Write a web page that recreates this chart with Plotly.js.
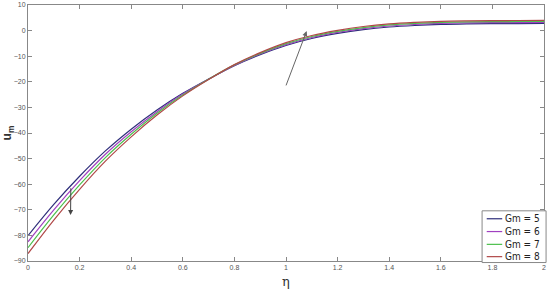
<!DOCTYPE html>
<html>
<head>
<meta charset="utf-8">
<script src="https://cdn.plot.ly/plotly-3.0.1.min.js"></script>
<style>
  html, body { margin: 0; padding: 0; background: #fff; }
  #chart { width: 550px; height: 292px; }
</style>
</head>
<body>
<div id="chart"></div>
<script>
// eta grid and velocity profiles
var eta = [0, 0.1, 0.2, 0.3, 0.4, 0.5, 0.6, 0.7, 0.8, 0.9, 1.0,
           1.1, 1.2, 1.3, 1.4, 1.5, 1.6, 1.7, 1.8, 1.9, 2.0];

var umGm5 = [-80.1, -67.9, -56.9, -47.0, -38.5, -31.0, -24.5, -18.9, -13.7, -9.4, -5.8,
             -3.1, -1.1, 0.4, 1.4, 2.0, 2.4, 2.6, 2.7, 2.75, 2.8];
var umGm6 = [-82.5, -70.0, -58.6, -48.3, -39.5, -31.7, -24.8, -19.0, -13.6, -9.1, -5.5,
             -2.7, -0.7, 0.8, 1.8, 2.4, 2.8, 3.0, 3.1, 3.15, 3.2];
var umGm7 = [-84.8, -72.0, -60.3, -49.6, -40.5, -32.3, -25.2, -19.0, -13.4, -8.9, -5.1,
             -2.3, -0.3, 1.2, 2.2, 2.8, 3.2, 3.4, 3.5, 3.55, 3.6];
var umGm8 = [-87.1, -74.0, -62.0, -51.0, -41.5, -33.0, -25.5, -19.1, -13.3, -8.6, -4.7,
             -1.9, 0.1, 1.6, 2.6, 3.2, 3.6, 3.8, 3.9, 3.95, 4.0];

var seriesNames = ["Gm = 5", "Gm = 6", "Gm = 7", "Gm = 8"];
var seriesColors = ["#2e2e7a", "#a040c0", "#4cc04c", "#b04848"];

var xTicks = [0, 0.2, 0.4, 0.6, 0.8, 1, 1.2, 1.4, 1.6, 1.8, 2];
var yTicks = [-90, -80, -70, -60, -50, -40, -30, -20, -10, 0, 10];

var allSeries = [umGm5, umGm6, umGm7, umGm8];
var data = [];
for (var i = 0; i < allSeries.length; i++) {
    data.push({
        x: eta,
        y: allSeries[i],
        type: 'scatter',
        mode: 'lines',
        name: seriesNames[i],
        showlegend: false,
        line: {color: seriesColors[i], width: 1.2, shape: 'spline'}
    });
}

// compact MATLAB-style legend box (plotly's own legend rows are too tall here)
var shapes = [
    {type: 'rect', xref: 'paper', yref: 'paper', x0: 0.880, x1: 1.004, y0: -0.006, y1: 0.196,
     fillcolor: '#fff', line: {color: '#888', width: 1}, layer: 'above'}
];
var annotations = [
    {x: 1.08, y: -0.2, ax: 0.998, ay: -22, xref: 'x', yref: 'y', axref: 'x', ayref: 'y',
     text: '', showarrow: true, arrowhead: 2, arrowsize: 1, arrowwidth: 1, arrowcolor: '#666'},
    {x: 0.165, y: -72, ax: 0.166, ay: -61, xref: 'x', yref: 'y', axref: 'x', ayref: 'y',
     text: '', showarrow: true, arrowhead: 2, arrowsize: 1, arrowwidth: 1, arrowcolor: '#444'}
];
var rowY = [0.165, 0.115, 0.065, 0.017];
for (var k = 0; k < seriesNames.length; k++) {
    shapes.push({type: 'line', xref: 'paper', yref: 'paper', x0: 0.889, x1: 0.919,
                 y0: rowY[k], y1: rowY[k], line: {color: seriesColors[k], width: 1.2}, layer: 'above'});
    annotations.push({xref: 'paper', yref: 'paper', x: 0.921, y: rowY[k], xanchor: 'left', yanchor: 'middle',
                      text: seriesNames[k], showarrow: false,
                      font: {family: 'Liberation Sans Narrow, DejaVu Sans Condensed, sans-serif', size: 10, color: '#222'}});
}

var tickFont = {family: 'Liberation Sans, Arial, sans-serif', size: 7, color: '#555'};

var layout = {
    width: 550,
    height: 292,
    margin: {l: 28, r: 6, t: 5, b: 31},
    paper_bgcolor: '#fff',
    plot_bgcolor: '#fff',
    showlegend: false,
    xaxis: {
        range: [0, 2],
        tickvals: xTicks,
        ticktext: xTicks.map(String),
        ticks: 'inside', ticklen: 4, tickcolor: '#888',
        showline: true, linecolor: '#888', linewidth: 1, mirror: 'ticks',
        showgrid: false, zeroline: false,
        tickfont: tickFont,
        title: {text: '\u03b7', font: {family: 'DejaVu Serif, serif', size: 13, color: '#333'}, standoff: 6}
    },
    yaxis: {
        range: [-90, 10],
        tickvals: yTicks,
        ticks: 'inside', ticklen: 4, tickcolor: '#888',
        showline: true, linecolor: '#888', linewidth: 1, mirror: 'ticks',
        showgrid: false, zeroline: false,
        tickfont: tickFont,
        title: {text: '<b>u</b><sub><b>m</b></sub>', font: {family: 'Liberation Sans, Arial, sans-serif', size: 12, color: '#333'}, standoff: 3}
    },
    shapes: shapes,
    annotations: annotations
};

Plotly.newPlot('chart', data, layout, {displayModeBar: false, staticPlot: true});
</script>
</body>
</html>
